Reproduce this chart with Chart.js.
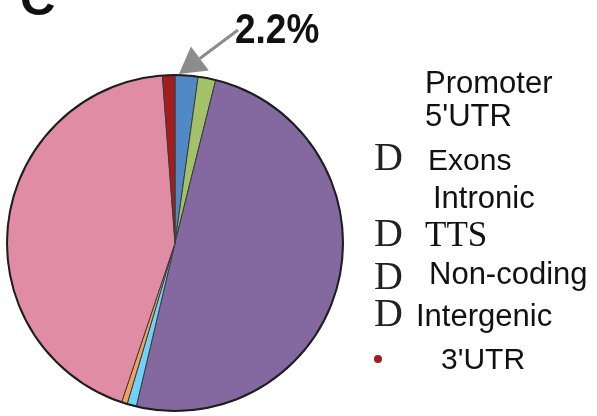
<!DOCTYPE html>
<html>
<head>
<meta charset="utf-8">
<script src="https://cdn.jsdelivr.net/npm/chart.js@4/dist/chart.umd.min.js"></script>
<style>
  html, body { margin: 0; padding: 0; background: #fff; }
  canvas { display: block; }
</style>
</head>
<body>
<canvas id="c" width="597" height="416"></canvas>
<script>
// Genomic annotation of peaks (percent of total), in legend order
const categories = ["Promoter", "5'UTR", "Exons", "Intronic", "TTS", "Non-coding", "Intergenic", "3'UTR"];
const shares = [2.2, 0, 1.7, 49.8, 0.9, 0.55, 43.65, 1.2];
const sliceColors = ['#5089c6', '#c0504d', '#a3c168', '#8468a0', '#6fd3f7', '#f5a15c', '#e08ca4', '#a51c1c'];

// Legend glyph shown before each label ('' = none)
const legendGlyphs = ['', '', 'D', '', 'D', 'D', 'D', '\u2022'];
// Serif labels in the legend
const serifLabels = ['TTS'];

const calloutLabel = shares[0] + '%';

const overlay = {
  id: 'overlay',
  afterDatasetsDraw(chart) {
    const ctx = chart.ctx;
    const arc = chart.getDatasetMeta(0).data[0];
    ctx.save();

    // outer rim of the pie
    ctx.beginPath();
    ctx.arc(arc.x, arc.y, arc.outerRadius, 0, Math.PI * 2);
    ctx.lineWidth = 2;
    ctx.strokeStyle = '#1e1e1e';
    ctx.stroke();

    // panel letter
    ctx.fillStyle = '#111';
    ctx.textBaseline = 'alphabetic';
    ctx.textAlign = 'left';
    ctx.font = 'bold 49px "Liberation Sans", Arial, sans-serif';
    ctx.fillText('C', 20, 15);

    // callout arrow toward the promoter slice
    const tip = { x: 179, y: 74 };
    const start = { x: 238, y: 30 };
    const dx = tip.x - start.x, dy = tip.y - start.y;
    const len = Math.hypot(dx, dy);
    const ux = dx / len, uy = dy / len;
    const headLen = 26, headHalf = 15;
    const bx = tip.x - ux * headLen, by = tip.y - uy * headLen;
    ctx.strokeStyle = '#8c8c8c';
    ctx.lineWidth = 3;
    ctx.beginPath();
    ctx.moveTo(start.x, start.y);
    ctx.lineTo(bx, by);
    ctx.stroke();
    ctx.fillStyle = '#8c8c8c';
    ctx.beginPath();
    ctx.moveTo(tip.x, tip.y);
    ctx.lineTo(bx - uy * headHalf, by + ux * headHalf);
    ctx.lineTo(bx + uy * headHalf, by - ux * headHalf);
    ctx.closePath();
    ctx.fill();

    // callout value
    ctx.fillStyle = '#111';
    ctx.save();
    ctx.translate(235, 43);
    ctx.scale(0.88, 1);
    ctx.font = 'bold 42px "Liberation Sans", Arial, sans-serif';
    ctx.fillText(calloutLabel, 0, 0);
    ctx.restore();

    // legend
    const rows = [
      { x: 425, y: 93, size: 31 },
      { x: 425, y: 126, size: 31 },
      { x: 428, y: 170, size: 30 },
      { x: 433, y: 208, size: 31 },
      { x: 425, y: 246, size: 35 },
      { x: 429, y: 284, size: 31 },
      { x: 416, y: 326, size: 31 },
      { x: 441, y: 369, size: 30 }
    ];
    categories.forEach((name, i) => {
      const r = rows[i];
      const g = legendGlyphs[i];
      if (g === 'D') {
        ctx.fillStyle = '#222';
        ctx.font = '40px "Liberation Serif", "Times New Roman", serif';
        ctx.fillText(g, 374, r.y + (i === 5 ? 5 : 0));
      } else if (g) {
        ctx.fillStyle = sliceColors[i];
        ctx.beginPath();
        ctx.arc(378, 359, 4, 0, Math.PI * 2);
        ctx.fill();
      }
      ctx.fillStyle = '#111';
      if (serifLabels.includes(name)) {
        ctx.font = r.size + 'px "Liberation Serif", "Times New Roman", serif';
      } else {
        ctx.font = r.size + 'px "Liberation Sans", Arial, sans-serif';
      }
      ctx.fillText(name, r.x, r.y);
    });

    ctx.restore();
  }
};

new Chart(document.getElementById('c'), {
  type: 'pie',
  data: {
    labels: categories,
    datasets: [{
      data: shares,
      backgroundColor: sliceColors,
      borderColor: '#3a3a3a',
      borderWidth: 1,
      radius: 168
    }]
  },
  options: {
    responsive: false,
    animation: false,
    events: [],
    layout: { padding: { left: 7, right: 254, top: 75, bottom: 5 } },
    plugins: {
      legend: { display: false },
      tooltip: { enabled: false }
    }
  },
  plugins: [overlay]
});
</script>
</body>
</html>
